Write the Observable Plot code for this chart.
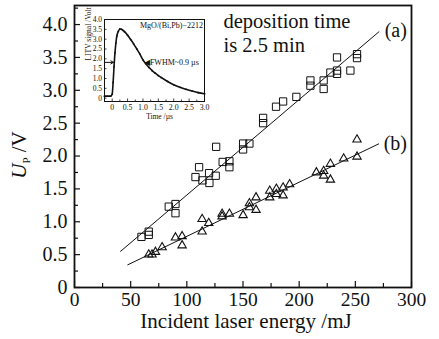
<!DOCTYPE html>
<html><head><meta charset="utf-8">
<script src="https://cdn.jsdelivr.net/npm/d3@7"></script>
<script src="https://cdn.jsdelivr.net/npm/@observablehq/plot@0.6"></script>
<style>
body{margin:0;background:#fff;}
#wrap{position:relative;width:439px;height:339px;overflow:hidden;}
#inset{position:absolute;left:74px;top:12px;}
svg{overflow:visible;}
</style></head>
<body><div id="wrap"><div id="main"></div><div id="inset"></div></div>
<script>
// ---- main data: series (a) squares ----
const energyA = [59.6, 66.1, 66.1, 83.9, 89.9, 89.9, 107.7, 110.9, 113.9, 119.8, 120.1, 125.7, 126.1, 131.9, 137.9, 137.9, 150.1, 155.7, 150.1, 167.9, 167.9, 179.4, 185.7, 197.5, 210, 210, 221.8, 221.8, 227.8, 233.7, 233.7, 233.7, 245.6, 251.5, 251.5];
const upA     = [0.77, 0.85, 0.80, 1.23, 1.27, 1.13, 1.68, 1.83, 1.63, 1.74, 1.59, 1.70, 2.14, 1.91, 1.92, 1.83, 2.19, 2.19, 2.10, 2.58, 2.50, 2.75, 2.83, 2.90, 3.15, 3.07, 3.15, 3.02, 3.27, 3.50, 3.30, 3.25, 3.30, 3.55, 3.49];
// ---- series (b) triangles ----
const energyB = [66.1, 69, 72.1, 78, 89.9, 95.8, 95.8, 113.6, 113.6, 119.5, 131.4, 131.4, 137.9, 150.1, 155.7, 155.7, 161.6, 161.6, 173.8, 173.8, 179.7, 179.7, 185.7, 185.7, 191.5, 215.3, 221.8, 221.8, 227.8, 227.8, 239.6, 251.5, 251.5];
const upB     = [0.50, 0.50, 0.54, 0.61, 0.76, 0.78, 0.64, 0.85, 1.04, 0.98, 1.12, 1.08, 1.12, 1.10, 1.28, 1.22, 1.37, 1.18, 1.47, 1.37, 1.50, 1.42, 1.52, 1.40, 1.57, 1.75, 1.77, 1.70, 1.88, 1.64, 1.96, 2.25, 1.99];
// ---- fitted lines (end points) ----
const fitAx = [41, 271],   fitAy = [0.55, 3.89];
const fitBx = [47.4, 270.8], fitBy = [0.345, 2.185];
// ---- ticks ----
const xMajor = [0, 50, 100, 150, 200, 250, 300];
const xMinor = [25, 75, 125, 175, 225, 275];
const yMajor = [0, 0.5, 1.0, 1.5, 2.0, 2.5, 3.0, 3.5, 4.0];
const yMinor = [0.25, 0.75, 1.25, 1.75, 2.25, 2.75, 3.25, 3.75, 4.25];
// ---- texts ----
const xTitle = "Incident laser energy /mJ";
const noteLines = ["deposition time", "is 2.5 min"];
const seriesLabels = ["(a)", "(b)"];

// ---- inset data: LITV waveform ----
const timeUs = [-0.25,-0.2,-0.15,-0.1,-0.05,0,0.03,0.06,0.09,0.12,0.15,0.2,0.25,0.3,0.35,0.4,0.5,0.6,0.7,0.8,0.9,1.0,1.1,1.2,1.3,1.4,1.5,1.6,1.8,2.0,2.2,2.4,2.6,2.8,3.0];
const signalV = [0.1,0.1,0.1,0.1,0.1,0.2,0.8,1.6,2.3,2.8,3.15,3.4,3.52,3.5,3.45,3.38,3.2,2.98,2.75,2.5,2.24,1.95,1.74,1.56,1.4,1.27,1.15,1.04,0.85,0.68,0.55,0.45,0.36,0.28,0.22];
const insetXTicks = [0, 0.5, 1.0, 1.5, 2.0, 2.5, 3.0];
const insetXMinor = [0.25, 0.75, 1.25, 1.75, 2.25, 2.75];
const insetYTicks = [0, 0.5, 1.0, 1.5, 2.0, 2.5, 3.0, 3.5, 4.0];
const insetSample = "MgO/(Bi,Pb)\u22122212";
const insetFwhm = "\u25C0FWHM~0.9 \u00B5s";
const insetYTitle = "LITV signal /Volt";
const insetXTitle = "Time /\u00B5s";

const W = 439, H = 339, mL = 74, mR = 28, mT = 5, mB = 52;
const innerW = W - mL - mR, innerH = H - mT - mB;
const fmt1 = d => d === 0 ? "0" : d.toFixed(1);
const serif = "'Liberation Serif', 'Times New Roman', serif";

const ptsA = energyA.map((e, i) => ({e, u: upA[i]}));
const ptsB = energyB.map((e, i) => ({e, u: upB[i]}));
const lineA = fitAx.map((e, i) => ({e, u: fitAy[i]}));
const lineB = fitBx.map((e, i) => ({e, u: fitBy[i]}));
const notes = [
  {t: noteLines[0], e: 132.6, u: 4.04},
  {t: noteLines[1], e: 132.6, u: 3.69}
];
const sLabels = [
  {t: seriesLabels[0], e: 286, u: 3.91},
  {t: seriesLabels[1], e: 285.6, u: 2.19}
];

const main = Plot.plot({
  width: W, height: H,
  marginLeft: mL, marginRight: mR, marginTop: mT, marginBottom: mB,
  style: {fontFamily: serif, fontSize: "19px", color: "#111", background: "#fff"},
  x: {domain: [0, 300]},
  y: {domain: [0, 4.29]},
  marks: [
    Plot.ruleX(xMajor, {x: d => d, insetTop: innerH - 6, strokeWidth: 1.2}),
    Plot.ruleX(xMinor, {x: d => d, insetTop: innerH - 4, strokeWidth: 1.2}),
    Plot.ruleY(yMajor, {y: d => d, insetRight: innerW - 6, strokeWidth: 1.2}),
    Plot.ruleY(yMinor, {y: d => d, insetRight: innerW - 4, strokeWidth: 1.2}),
    Plot.axisX(xMajor, {tickSize: 0, tickPadding: 5, label: null, fontSize: 19.5, tickFormat: d => String(d)}),
    Plot.axisY(yMajor, {tickSize: 0, tickPadding: 7, label: null, fontSize: 20, tickFormat: fmt1}),
    Plot.line(lineA, {x: "e", y: "u", stroke: "#111", strokeWidth: 1}),
    Plot.line(lineB, {x: "e", y: "u", stroke: "#111", strokeWidth: 1}),
    Plot.dot(ptsA, {x: "e", y: "u", symbol: "square", r: 4.1, fill: "none", stroke: "#111", strokeWidth: 1}),
    Plot.dot(ptsB, {x: "e", y: "u", symbol: "triangle", r: 3.1, fill: "none", stroke: "#111", strokeWidth: 1.1}),
    Plot.frame({stroke: "#111", strokeWidth: 1.8}),
    Plot.text(notes, {x: "e", y: "u", text: "t", textAnchor: "start", fontSize: 20.5, fill: "#111"}),
    Plot.text(sLabels, {x: "e", y: "u", text: "t", fontSize: 20, fill: "#111"}),
    Plot.text([xTitle], {frameAnchor: "bottom", dx: 3, dy: 40, text: d => d, fontSize: 21, fill: "#111"})
  ]
});
document.getElementById("main").appendChild(main);

// y axis title with italic U and subscript P
const svgSel = d3.select(main.tagName.toLowerCase() === "svg" ? main : main.querySelector("svg"));
const yt = svgSel.append("text")
  .attr("transform", "translate(26,155) rotate(-90)")
  .attr("text-anchor", "middle")
  .attr("font-family", serif)
  .attr("font-size", 21)
  .attr("fill", "#111");
yt.append("tspan").attr("font-style", "italic").text("U");
yt.append("tspan").attr("font-size", 11).attr("dy", 4).text("P");
yt.append("tspan").attr("dy", -4).text(" /V");

// ---- inset ----
const wave = timeUs.map((t, i) => ({t, v: signalV[i]}));
const iW = 136, iH = 112, imL = 30, imR = 6, imT = 7, imB = 23;
const iInnerW = iW - imL - imR, iInnerH = iH - imT - imB;
const inset = Plot.plot({
  width: iW, height: iH,
  marginLeft: imL, marginRight: imR, marginTop: imT, marginBottom: imB,
  style: {fontFamily: serif, fontSize: "7.5px", color: "#111", background: "transparent"},
  x: {domain: [-0.25, 3.0]},
  y: {domain: [-0.17, 4.0]},
  marks: [
    Plot.ruleX(insetXTicks, {x: d => d, insetTop: iInnerH - 2.5, strokeWidth: 0.8}),
    Plot.ruleX(insetXMinor, {x: d => d, insetTop: iInnerH - 1.5, strokeWidth: 0.8}),
    Plot.ruleY(insetYTicks, {y: d => d, insetRight: iInnerW - 2.5, strokeWidth: 0.8}),
    Plot.axisX(insetXTicks, {tickSize: 0, tickPadding: 3, label: null, fontSize: 7.8, tickFormat: fmt1}),
    Plot.axisY(insetYTicks, {tickSize: 0, tickPadding: 2.5, label: null, fontSize: 7.5, tickFormat: fmt1}),
    Plot.line(wave, {x: "t", y: "v", stroke: "#111", strokeWidth: 1.6, curve: "monotone-x"}),
    Plot.dot(wave, {x: "t", y: "v", r: 0.9, fill: "#111"}),
    Plot.frame({stroke: "#111", strokeWidth: 1}),
    Plot.arrow([{x1: -0.25, x2: 0.04, y: 1.82}], {x1: "x1", x2: "x2", y1: "y", y2: "y", headLength: 5, strokeWidth: 1, stroke: "#111"}),
    Plot.text([{t: insetSample, x: 2.95, y: 3.7}], {x: "x", y: "y", text: "t", textAnchor: "end", fontSize: 8, fill: "#111"}),
    Plot.text([{t: insetFwhm, x: 1.03, y: 1.82}], {x: "x", y: "y", text: "t", textAnchor: "start", fontSize: 8, fill: "#111"}),
    Plot.text([insetYTitle], {frameAnchor: "left", dx: -16, rotate: -90, text: d => d, fontSize: 7.5, fill: "#111"}),
    Plot.text([insetXTitle], {frameAnchor: "bottom", dx: 5, dy: 17, text: d => d, fontSize: 7.5, fill: "#111"})
  ]
});
document.getElementById("inset").appendChild(inset);
</script>
</body></html>
